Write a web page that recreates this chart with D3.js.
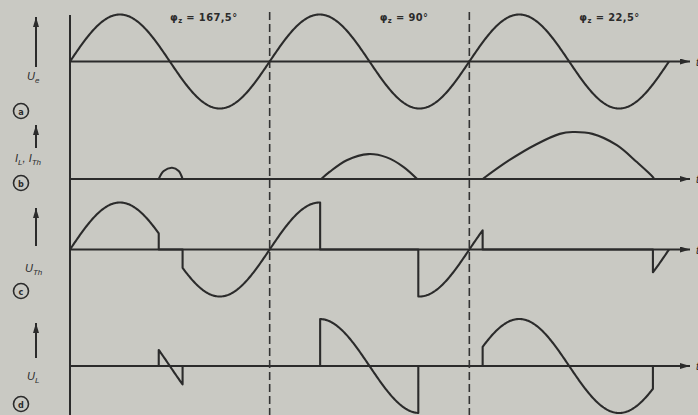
<!DOCTYPE html>
<html>
<head>
<meta charset="utf-8">
<script src="https://cdn.jsdelivr.net/npm/d3@7"></script>
<style>
  body { margin: 0; background: #c9c9c3; }
  svg { display: block; }
  .ax { stroke: #2b2b2b; stroke-width: 2; fill: none; }
  .wave { stroke: #2b2b2b; stroke-width: 2.1; fill: none; stroke-linejoin: round; }
  .dash { stroke: #333; stroke-width: 1.6; stroke-dasharray: 8 4; }
  .lbl { font-family: 'Liberation Sans', sans-serif; font-style: italic; font-size: 11px; fill: #2b2b2b; }
  .phi { font-family: 'DejaVu Sans Condensed', 'DejaVu Sans', sans-serif; font-weight: bold; font-size: 11px; letter-spacing: 0.4px; fill: #2b2b2b; }
</style>
</head>
<body>
<svg id="chart" width="698" height="415"></svg>
<script>
'use strict';

// firing angle printed above each period
var phiLabels = ['167,5°', '90°', '22,5°'];
// where firing / extinction sit in the drawing (degrees inside each period)
var fireAngles = [160, 91, 24];
var extAngles = [203, 268, 331];
// thyristor current humps [deg, value], value relative to Ue amplitude
var current1 = [[160, 0], [169, 0.17], [184, 0.24], [196, 0.17], [203, 0]];
var current2 = [[93, 0], [108, 0.15], [139, 0.40], [178, 0.53], [211, 0.46], [241, 0.26], [266, 0]];
var current3 = [[24, 0], [72, 0.40], [121, 0.74], [163, 0.96], [186, 1.0], [222, 0.96], [266, 0.72], [302, 0.36], [331, 0.04], [333, 0]];
var currents = [current1, current2, current3];

var panelNames = ['a', 'b', 'c', 'd'];
var axisY = [61.5, 179, 249.5, 366];
var amp = 47;

var svg = d3.select('#chart');
svg.append('rect').attr('width', 698).attr('height', 415).attr('fill', '#c9c9c3');

var defs = svg.append('defs');
defs.append('marker')
  .attr('id', 'arr')
  .attr('viewBox', '0 0 10 6')
  .attr('refX', 10).attr('refY', 3)
  .attr('markerWidth', 10).attr('markerHeight', 6)
  .attr('markerUnits', 'userSpaceOnUse')
  .attr('orient', 'auto')
  .append('path').attr('d', 'M0,0 L10,3 L0,6 Z').attr('fill', '#2b2b2b');

var x = d3.scaleLinear().domain([0, 1080]).range([70, 669]);
var ys = axisY.map(function (a) {
  return d3.scaleLinear().domain([-1, 1]).range([a + amp, a - amp]);
});

function ue(deg) { return Math.sin(deg * Math.PI / 180); }

function sineRun(from, to) {
  var pts = d3.range(from, to, 2).map(function (d) { return [d, ue(d)]; });
  pts.push([to, ue(to)]);
  return pts;
}

function draw(pts, y, curve) {
  var line = d3.line()
    .x(function (d) { return x(d[0]); })
    .y(function (d) { return y(d[1]); })
    .curve(curve || d3.curveLinear);
  svg.append('path').attr('class', 'wave').attr('d', line(pts));
}

// axes
svg.append('line').attr('class', 'ax')
  .attr('x1', 70).attr('x2', 70).attr('y1', 15).attr('y2', 415);
axisY.forEach(function (a) {
  svg.append('line').attr('class', 'ax')
    .attr('x1', 70).attr('x2', 690).attr('y1', a).attr('y2', a)
    .attr('marker-end', 'url(#arr)');
  // time label, cut by the page edge as in the scan
  svg.append('text').attr('class', 'lbl')
    .attr('x', 696).attr('y', a + 4).text('t');
});

// dashed period borders
[360, 720].forEach(function (d) {
  svg.append('line').attr('class', 'dash')
    .attr('x1', x(d)).attr('x2', x(d)).attr('y1', 12).attr('y2', 415);
});

// (a) supply voltage
draw(sineRun(0, 1080), ys[0]);

for (var k = 0; k < 3; k++) {
  var o = 360 * k;
  var f = o + fireAngles[k];
  var e = o + extAngles[k];

  // (b) current
  draw(currents[k].map(function (p) { return [p[0] + o, p[1]]; }), ys[1], d3.curveCatmullRom);

  // (c) thyristor voltage
  var th = sineRun(o, f);
  th.push([f, 0], [e, 0]);
  th = th.concat(sineRun(e, o + 360));
  draw(th, ys[2]);

  // (d) load voltage
  var ul = [[f, 0]].concat(sineRun(f, e));
  ul.push([e, 0]);
  draw(ul, ys[3]);

  // firing angle caption
  var t = svg.append('text').attr('class', 'phi')
    .attr('x', x(o) + [100, 110, 110][k]).attr('y', 21);
  t.append('tspan').text('φ');
  t.append('tspan').attr('font-size', 7.5).attr('dy', 2).text('z');
  t.append('tspan').attr('dy', -2).text(' = ' + phiLabels[k]);
}

// left side: quantity arrows, names and circled letters
var arrows = [[67, 17], [148, 125], [246, 208], [358, 323]];
arrows.forEach(function (a) {
  svg.append('line').attr('class', 'ax').attr('stroke-width', 1.6)
    .attr('x1', 36).attr('x2', 36).attr('y1', a[0]).attr('y2', a[1])
    .attr('marker-end', 'url(#arr)');
});

function label(xp, yp, parts) {
  var t = svg.append('text').attr('class', 'lbl').attr('x', xp).attr('y', yp);
  parts.forEach(function (p) {
    t.append('tspan').attr('font-size', p[1] ? 8 : 11)
      .attr('dy', p[1] ? 3 : (p[2] || 0)).text(p[0]);
  });
}
label(27, 80, [['U'], ['e', 1]]);
label(15, 162, [['I'], ['L', 1], [', ', 0, -3], ['I'], ['Th', 1]]);
label(25, 272, [['U'], ['Th', 1]]);
label(27, 380, [['U'], ['L', 1]]);

var circleY = [111, 183, 291, 404];
panelNames.forEach(function (n, i) {
  svg.append('circle').attr('cx', 21).attr('cy', circleY[i]).attr('r', 7.5)
    .attr('fill', 'none').attr('stroke', '#2b2b2b').attr('stroke-width', 1.6);
  svg.append('text').attr('x', 21).attr('y', circleY[i] + 3.5)
    .attr('text-anchor', 'middle')
    .style('font-family', 'DejaVu Sans Condensed, sans-serif')
    .style('font-size', '9px').style('font-weight', 'bold').attr('fill', '#2b2b2b')
    .text(n);
});
</script>
</body>
</html>
